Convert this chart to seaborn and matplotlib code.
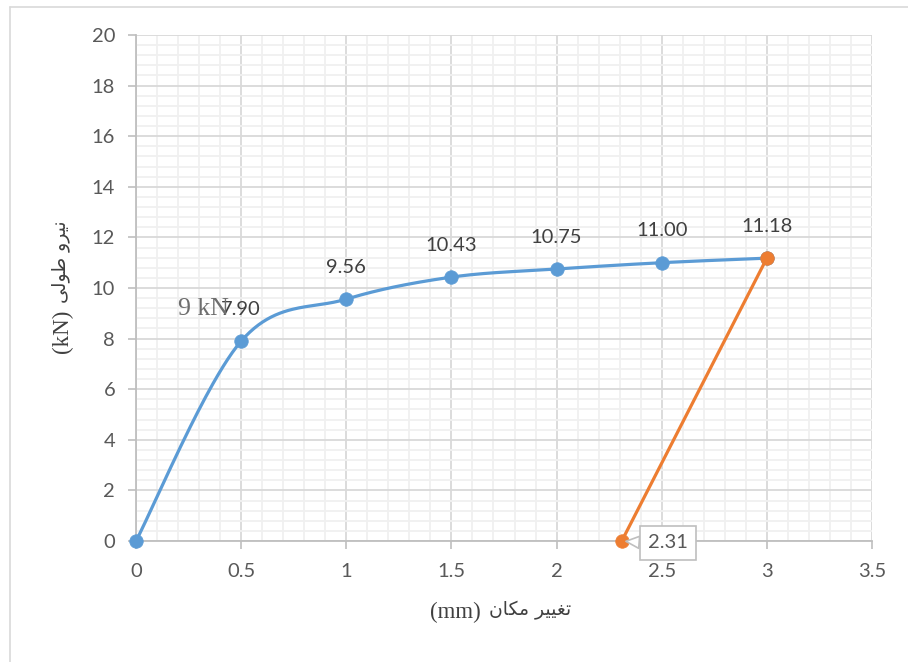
import numpy as np
import pandas as pd
import matplotlib
matplotlib.use("Agg")
import matplotlib.pyplot as plt
from matplotlib.lines import Line2D
from matplotlib.ticker import MultipleLocator, FuncFormatter
import seaborn as sns

# ---------------- data ----------------
load_x = [0, 0.5, 1, 1.5, 2, 2.5, 3]
load_y = [0, 7.90, 9.56, 10.43, 10.75, 11.00, 11.18]
unload_x = [2.31, 3]
unload_y = [0, 11.18]
x_ticks = [0, 0.5, 1, 1.5, 2, 2.5, 3, 3.5]
y_ticks = [0, 2, 4, 6, 8, 10, 12, 14, 16, 18, 20]
x_label_text = "تغییر مکان"
x_label_unit = "(mm)"
y_label_text = "نیرو طولی"
y_label_unit = "(kN)"
note_text = "9 kN"
note_pos = (0.2, 9.17)

BLUE = "#5B9BD5"
ORANGE = "#ED7D31"
TICKC = "#595959"
LABC = "#404040"

# ---------------- Arabic shaping helper (display only) ----------------
FORMS = {
    'ن': ('\uFEE5', '\uFEE6', '\uFEE7', '\uFEE8'),
    'ی': ('\uFBFC', '\uFBFD', '\uFBFE', '\uFBFF'),
    'ر': ('\uFEAD', '\uFEAE', None, None),
    'و': ('\uFEED', '\uFEEE', None, None),
    'ط': ('\uFEC1', '\uFEC2', '\uFEC3', '\uFEC4'),
    'ل': ('\uFEDD', '\uFEDE', '\uFEDF', '\uFEE0'),
    'ت': ('\uFE95', '\uFE96', '\uFE97', '\uFE98'),
    'غ': ('\uFECD', '\uFECE', '\uFECF', '\uFED0'),
    'م': ('\uFEE1', '\uFEE2', '\uFEE3', '\uFEE4'),
    'ک': ('\uFB8E', '\uFB8F', '\uFB90', '\uFB91'),
    'ا': ('\uFE8D', '\uFE8E', None, None),
}


def shape_word(w):
    out = []
    for i, ch in enumerate(w):
        if ch not in FORMS:
            out.append(ch)
            continue
        f = FORMS[ch]
        prev_j = i > 0 and w[i - 1] in FORMS and FORMS[w[i - 1]][2] is not None
        next_j = (i < len(w) - 1 and w[i + 1] in FORMS and f[2] is not None)
        if prev_j and next_j:
            out.append(f[3])
        elif prev_j:
            out.append(f[1])
        elif next_j:
            out.append(f[2])
        else:
            out.append(f[0])
    return "".join(out)


def rtl_visual(s):
    toks = s.split(" ")
    res = []
    for t in reversed(toks):
        if any(c in FORMS for c in t):
            res.append(shape_word(t)[::-1])
        else:
            res.append(t)
    return " ".join(res)


def excel_smooth(xs, ys, n=50):
    P = np.column_stack([xs, ys]).astype(float)
    segs = []
    for i in range(len(P) - 1):
        p0 = P[i - 1] if i > 0 else P[i]
        p1, p2 = P[i], P[i + 1]
        p3 = P[i + 2] if i + 2 < len(P) else P[i + 1]
        c1 = p1 + (p2 - p0) / 6.0
        c2 = p2 - (p3 - p1) / 6.0
        t = np.linspace(0, 1, n)[:, None]
        seg = ((1 - t) ** 3) * p1 + 3 * ((1 - t) ** 2) * t * c1 + 3 * (1 - t) * t ** 2 * c2 + t ** 3 * p2
        segs.append(seg if i == 0 else seg[1:])
    return np.vstack(segs)


# ---------------- style ----------------
sns.set_theme(style="white")
plt.rcParams['font.family'] = ['Lato', 'DejaVu Sans']

FS = 14.5
W, H = 736.0, 506.0

fig = plt.figure(figsize=(9.08, 6.62), dpi=100)
ax = fig.add_axes([136 / 908, 1 - 541 / 662, W / 908, H / 662])

curve = excel_smooth(load_x, load_y)
curve_df = pd.DataFrame({"x": curve[:, 0], "y": curve[:, 1]})
sns.lineplot(data=curve_df, x="x", y="y", sort=False, estimator=None,
             color=BLUE, lw=2.3, ax=ax, zorder=3)
sns.scatterplot(x=load_x, y=load_y, color=BLUE, edgecolor=BLUE, s=95,
                linewidth=0.5, ax=ax, zorder=4, clip_on=False)
sns.lineplot(x=unload_x, y=unload_y, sort=False, estimator=None,
             color=ORANGE, lw=2.3, ax=ax, zorder=5)
sns.scatterplot(x=unload_x, y=unload_y, color=ORANGE, edgecolor=ORANGE, s=95,
                linewidth=0.5, ax=ax, zorder=6, clip_on=False)

ax.set_xlim(x_ticks[0], x_ticks[-1])
ax.set_ylim(y_ticks[0], y_ticks[-1])
ax.set_xticks(x_ticks)
ax.set_yticks(y_ticks)
ax.xaxis.set_minor_locator(MultipleLocator(0.1))
ax.yaxis.set_minor_locator(MultipleLocator(0.4))
fmt = FuncFormatter(lambda v, p: f"{v:g}")
ax.xaxis.set_major_formatter(fmt)
ax.yaxis.set_major_formatter(fmt)

ax.grid(which="minor", color="#F0F0F0", lw=1.3, zorder=0)
ax.grid(which="major", color="#D9D9D9", lw=1.3, zorder=1)
ax.set_axisbelow(True)

for sp in ["top", "right"]:
    ax.spines[sp].set_visible(False)
for sp in ["left", "bottom"]:
    ax.spines[sp].set_color("#BFBFBF")
    ax.spines[sp].set_linewidth(1.3)

ax.tick_params(which="major", axis="both", direction="out", length=6,
               width=1.2, color="#BFBFBF", labelcolor=TICKC, labelsize=FS,
               left=True, bottom=True)
ax.tick_params(axis="y", pad=9)
ax.tick_params(axis="x", pad=10)
ax.tick_params(which="minor", length=0)
ax.set_xlabel("")
ax.set_ylabel("")

# axis titles: serif unit + Arabic words (RTL visual order: unit on the left/bottom)
LAT_FS = 16.5
AR_FS = 13.5
ax.text((481 - 136) / W, -(612 - 541) / H, x_label_unit, transform=ax.transAxes,
        family="Liberation Serif", fontsize=LAT_FS, color=LABC,
        ha="right", va="center")
ax.text((489 - 136) / W, -(610 - 541) / H, rtl_visual(x_label_text),
        transform=ax.transAxes, family="DejaVu Sans", fontsize=AR_FS,
        color=LABC, ha="left", va="center")
ax.text(-(136 - 62) / W, (541 - 353) / H, y_label_unit, transform=ax.transAxes,
        family="Liberation Serif", fontsize=LAT_FS, color=LABC, rotation=90,
        rotation_mode="anchor", ha="left", va="center")
ax.text(-(136 - 60) / W, (541 - 303) / H, rtl_visual(y_label_text),
        transform=ax.transAxes, family="DejaVu Sans", fontsize=AR_FS,
        color=LABC, rotation=90, rotation_mode="anchor", ha="left", va="center")

# data labels
for xv, yv in zip(load_x[1:-1], load_y[1:-1]):
    ax.annotate(f"{yv:.2f}", (xv, yv), xytext=(0, 32), textcoords="offset pixels",
                ha="center", va="center", fontsize=FS, color=LABC, zorder=7)
ax.annotate(f"{unload_y[1]:.2f}", (unload_x[1], unload_y[1]), xytext=(0, 32),
            textcoords="offset pixels", ha="center", va="center",
            fontsize=FS, color=LABC, zorder=7)

# callout for unloading start point
ax.annotate(f"{unload_x[0]:.2f}", (unload_x[0], unload_y[0]), xytext=(46, -2),
            textcoords="offset pixels", ha="center", va="center",
            fontsize=FS, color=TICKC, zorder=8,
            bbox=dict(boxstyle="square,pad=0.4", fc="white", ec="#BFBFBF", lw=1.2),
            arrowprops=dict(arrowstyle="wedge,tail_width=0.6,shrink_factor=0.5",
                            fc="white", ec="#BFBFBF", lw=1.2, relpos=(0.0, 0.5),
                            shrinkA=0, shrinkB=3))

# free text note
ax.text(note_pos[0], note_pos[1], note_text, family=['Liberation Serif'],
        fontsize=18.5, color="#6E6E6E", ha="left", va="center", zorder=7)

# chart frame lines (cropped chart border)
fig.add_artist(Line2D([9.5 / 908, 9.5 / 908], [0, 1 - 6.5 / 662],
                      transform=fig.transFigure, color="#D9D9D9", lw=1.2))
fig.add_artist(Line2D([9.5 / 908, 1], [1 - 6.5 / 662, 1 - 6.5 / 662],
                      transform=fig.transFigure, color="#D9D9D9", lw=1.2))

fig.savefig("out.png", dpi=100, facecolor="white")
